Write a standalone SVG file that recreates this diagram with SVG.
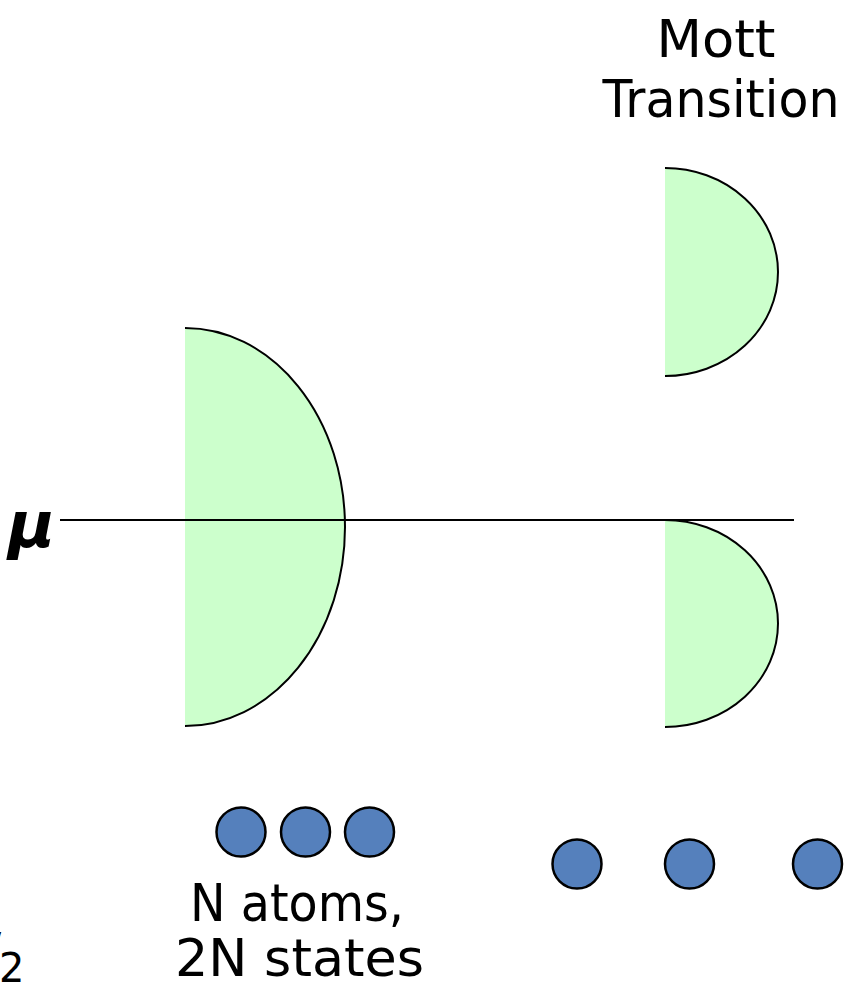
<svg xmlns="http://www.w3.org/2000/svg" width="848" height="984" viewBox="0 0 848 984">
<style>
.band{fill:#CCFFCC;stroke:#000;stroke-width:2}
.atom{fill:#5580BC;stroke:#000;stroke-width:2.5}
.lbl{font-family:"DejaVu Sans","Liberation Sans",sans-serif;font-size:52px;fill:#000}
</style>
<rect width="848" height="984" fill="#fff"/>
<g id="band-metal">
<path class="band" d="M185 328 A160 199 0 0 1 185 726"/>
</g>
<g id="band-upper">
<path class="band" d="M665 168 A113 104 0 0 1 665 376"/>
</g>
<g id="band-lower">
<path class="band" d="M665 520 A113 103.5 0 0 1 665 727"/>
</g>
<g id="connectors">
<line x1="60" y1="520" x2="794" y2="520" stroke="#000" stroke-width="2"/>
</g>
<g id="mu-label">
<text class="lbl" x="8" y="547" style="font-size:64px;font-style:italic;font-weight:bold">μ</text>
</g>
<g id="mott-label">
<text class="lbl" x="716" y="57" text-anchor="middle" textLength="119" lengthAdjust="spacingAndGlyphs">Mott</text>
<text class="lbl" x="721" y="117" text-anchor="middle" textLength="237" lengthAdjust="spacingAndGlyphs">Transition</text>
</g>
<g id="atoms-dense">
<circle class="atom" cx="241" cy="832" r="24.5"/>
<circle class="atom" cx="305.5" cy="832" r="24.5"/>
<circle class="atom" cx="369.5" cy="832" r="24.5"/>
</g>
<g id="atoms-sparse">
<circle class="atom" cx="577" cy="864" r="24.5"/>
<circle class="atom" cx="689.5" cy="864" r="24.5"/>
<circle class="atom" cx="817.5" cy="864" r="24.5"/>
</g>
<g id="atoms-label">
<text class="lbl" x="297" y="921" text-anchor="middle" textLength="214" lengthAdjust="spacingAndGlyphs">N atoms,</text>
<text class="lbl" x="299.5" y="976" text-anchor="middle" textLength="249" lengthAdjust="spacingAndGlyphs">2N states</text>
</g>
<g id="fraction-fragment">
<text class="lbl" x="-11" y="958" style="font-size:36px">/<tspan x="-1" y="982" style="font-size:40px">2</tspan></text>
</g>
</svg>
